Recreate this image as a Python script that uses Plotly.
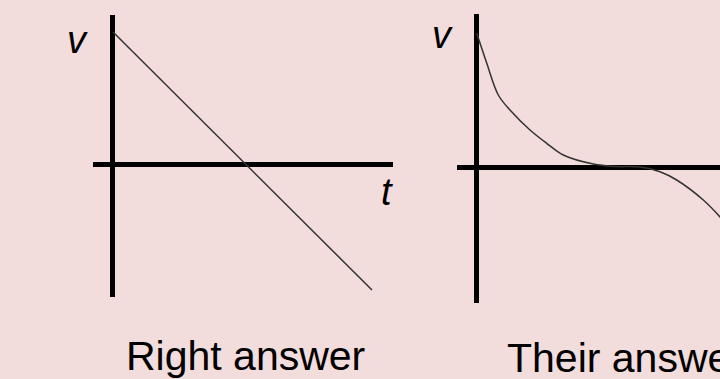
import plotly.graph_objects as go

W, H = 720, 379

# left sketch: straight line (right answer)
right_t = [0.1, 26.0]
right_v = [13.2, -12.6]

# right sketch: curve that flattens out on the t axis (their answer)
their_t = [0.07, 1.07, 2.23, 3.4, 5.4, 7.07, 8.73, 11.73, 14.0, 16.4, 18.4, 20.07, 22.73, 24.4, 26.0]
their_v = [13.4, 10.4, 7.2, 5.7, 3.7, 2.37, 1.2, 0.3, 0.05, 0.0, -0.47, -1.3, -3.3, -5.0, -7.0]

captions = ["Right answer", "Their answer"]
bg = "#f2dcdc"
font = "Liberation Sans, Arial, Helvetica, sans-serif"


def px_x(p):
    return p / W


def px_y(p):
    return 1 - p / H


fig = go.Figure()
fig.add_trace(go.Scatter(x=right_t, y=right_v, mode="lines",
                         line=dict(color="#333333", width=1.5),
                         xaxis="x", yaxis="y", showlegend=False, hoverinfo="skip"))
fig.add_trace(go.Scatter(x=their_t, y=their_v, mode="lines", line_shape="spline",
                         line=dict(color="#333333", width=1.5),
                         xaxis="x2", yaxis="y2", showlegend=False, hoverinfo="skip"))

axis_style = dict(showgrid=False, showticklabels=False, ticks="", showline=False,
                  zeroline=True, zerolinecolor="black", zerolinewidth=5, fixedrange=True)

fig.update_layout(
    width=W, height=H,
    margin=dict(l=0, r=0, t=0, b=0),
    paper_bgcolor=bg, plot_bgcolor=bg,
    xaxis=dict(domain=[px_x(93), px_x(393)], range=[-1.9, 28.1], anchor="y", **axis_style),
    yaxis=dict(domain=[px_y(297), px_y(15)], range=[-13.3, 14.9], anchor="x", **axis_style),
    xaxis2=dict(domain=[px_x(457), 1.0], range=[-1.9, 24.4], anchor="y2", **axis_style),
    yaxis2=dict(domain=[px_y(303), px_y(14)], range=[-13.6, 15.3], anchor="x2", **axis_style),
)

labels = [
    ("<i>v</i>", 77, 40, 38),
    ("<i>t</i>", 387, 192, 38),
    ("<i>v</i>", 442, 35, 38),
    (captions[0], 124, 356, 41),
    (captions[1], 505, 358, 41),
]
for txt, x, y, size in labels:
    fig.add_annotation(text=txt, x=px_x(x), y=px_y(y), xref="paper", yref="paper",
                       xanchor="left" if "answer" in txt else "center", yanchor="middle",
                       showarrow=False, font=dict(family=font, size=size, color="black"))

# drop the browser's default 8px body margin so the figure fills the window
fig.write_html("out.html", config={"displayModeBar": False},
               post_script="document.body.style.margin='0';")
